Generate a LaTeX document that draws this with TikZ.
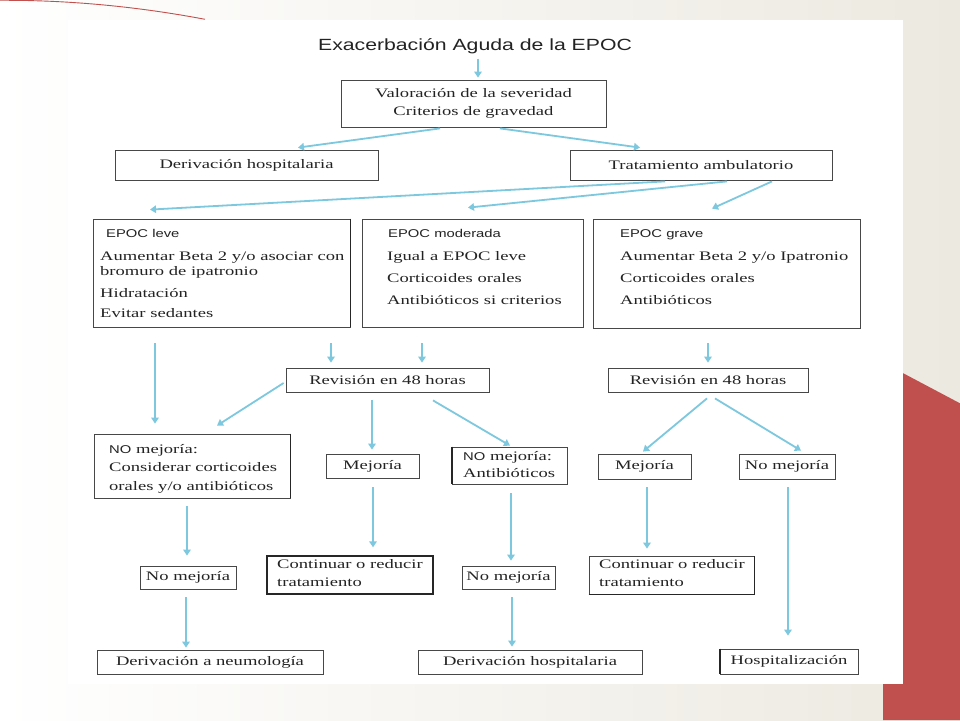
\documentclass[tikz,border=0pt]{standalone}
\usepackage{fontspec}
\setmainfont[FakeStretch=1.43]{Liberation Serif}
\newfontfamily\hs[FakeStretch=1.31]{Liberation Sans}
\usetikzlibrary{arrows.meta}
\definecolor{beige}{RGB}{236,233,224}
\definecolor{slidered}{RGB}{192,80,77}
\definecolor{arrowblue}{RGB}{125,200,222}
\definecolor{ink}{RGB}{35,35,35}
\newcommand{\stack}[1]{\vtop{\baselineskip=0pt\lineskiplimit=-1000pt\lineskip=0pt\relax #1}}
\newcommand{\Ln}[2]{\vskip#1\hbox{#2}}
\newcommand{\hd}[1]{{\hs\fontsize{11.3}{13}\selectfont #1}}
\begin{document}
\begin{tikzpicture}[x=1pt,y=-1pt,
  box/.style={draw=black!72, line width=0.8pt, fill=white, inner sep=0pt, text=ink, font=\fontsize{13}{15}\selectfont},
  txt/.style={inner sep=0pt, text=ink, font=\fontsize{13}{15}\selectfont},
  heavy/.style={draw=black!85, line width=1.8pt},
  arr/.style={draw=arrowblue, line width=1.8pt, -{Triangle[length=6pt,width=7.5pt]}}]
\useasboundingbox (0,0) rectangle (960,720);
% background
\shade[left color=white, right color=beige] (0,0) rectangle (960,720);
\draw[slidered, line width=0.9pt] (0,0.3) .. controls (68.3,0) and (136.7,6.4) .. (205,19.3);
\fill[slidered] (885,363.6) -- (960,403.3) -- (960,720) -- (883,720) -- cycle;
\fill[white] (68,20) rectangle (903,684);
% title
\node[txt, anchor=base, font=\hs\fontsize{16.2}{19}\selectfont] (title) at (475,50) {Exacerbación Aguda de la EPOC};
% boxes
\node[box, minimum width=265pt, minimum height=47pt, align=center, font=\fontsize{13}{18}\selectfont] (val) at (473.5,103.5) {Valoración de la severidad\\Criterios de gravedad};
\node[box, minimum width=263pt, minimum height=30pt] (dh) at (246.5,165) {Derivación hospitalaria};
\node[box, minimum width=262pt, minimum height=30pt] (ta) at (701,165) {Tratamiento ambulatorio};
\node[box, minimum width=257pt, minimum height=108pt] (leve) at (221.5,273) {};
\node[box, minimum width=221pt, minimum height=108pt] (mod) at (472.5,273) {};
\node[box, minimum width=267pt, minimum height=109pt] (grave) at (726.5,273.5) {};
\node[box, minimum width=203pt, minimum height=24pt] (rev1) at (387.5,380) {Revisión en 48 horas};
\node[box, minimum width=200pt, minimum height=24pt] (rev2) at (708,380) {Revisión en 48 horas};
\node[box, minimum width=196pt, minimum height=64pt] (nm1) at (192,466) {};
\node[box, minimum width=93pt, minimum height=24pt] (mej1) at (372.5,466) {Mejoría};
\node[box, minimum width=115pt, minimum height=37pt] (nm2) at (509.5,465.5) {};
\node[box, minimum width=93pt, minimum height=25pt] (mej2) at (644.5,466.5) {Mejoría};
\node[box, minimum width=96pt, minimum height=25pt] (nm3) at (787,466.5) {No mejoría};
\node[box, minimum width=96pt, minimum height=23pt] (nmA) at (188,577.5) {No mejoría};
\node[box, minimum width=166pt, minimum height=38pt, line width=1.4pt, draw=black!85] (cont1) at (350,575) {};
\node[box, minimum width=93pt, minimum height=23pt] (nmB) at (508.5,577.5) {No mejoría};
\node[box, minimum width=165pt, minimum height=38pt] (cont2) at (671.5,575) {};
\node[box, minimum width=226pt, minimum height=24pt] (neumo) at (210,662) {Derivación a neumología};
\node[box, minimum width=224pt, minimum height=24pt] (dh2) at (530,662) {Derivación hospitalaria};
\node[box, minimum width=138pt, minimum height=25pt] (hosp) at (789,661.5) {Hospitalización};
% heavier edges as in the reference
\draw[heavy] (leve.north east) -- (leve.south east);
\draw[heavy] (nm1.north east) -- (nm1.south east);
\draw[heavy] (nm2.north west) -- (nm2.south west);
\draw[heavy] (hosp.north west) -- (hosp.south west);
\draw[draw=black!85, line width=1.4pt] (cont2.south west) -- (cont2.south east) -- (cont2.north east);
% multi-line texts
\node[txt, anchor=base west] (leveT) at (100,237) {\stack{\hbox{\kern6pt\hd{EPOC leve}}\Ln{23pt}{Aumentar Beta 2 y/o asociar con}\Ln{15pt}{bromuro de ipatronio}\Ln{22pt}{Hidratación}\Ln{20pt}{Evitar sedantes}}};
\node[txt, anchor=base west] (modT) at (387,237) {\stack{\hbox{\kern1pt\hd{EPOC moderada}}\Ln{23pt}{Igual a EPOC leve}\Ln{22pt}{Corticoides orales}\Ln{22pt}{Antibióticos si criterios}}};
\node[txt, anchor=base west] (graveT) at (620,237) {\stack{\hbox{\hd{EPOC grave}}\Ln{23pt}{Aumentar Beta 2 y/o Ipatronio}\Ln{22pt}{Corticoides orales}\Ln{22pt}{Antibióticos}}};
\node[txt, anchor=base west] (nm1T) at (109,453) {\stack{\hbox{\hd{NO} mejoría:}\Ln{18pt}{Considerar corticoides}\Ln{19pt}{orales y/o antibióticos}}};
\node[txt, anchor=base west] (nm2T) at (463,460) {\stack{\hbox{\hd{NO} mejoría:}\Ln{17pt}{Antibióticos}}};
\node[txt, anchor=base west] (cont1T) at (277,568) {\stack{\hbox{Continuar o reducir}\Ln{18pt}{tratamiento}}};
\node[txt, anchor=base west] (cont2T) at (599,568) {\stack{\hbox{Continuar o reducir}\Ln{18pt}{tratamiento}}};
% connectors
\draw[arr] ([shift={(3,5)}]title.south) -- ([shift={(4.5,-2)}]val.north);
\draw[arr] ([shift={(-33.5,1)}]val.south) -- ([shift={(51.5,-2)}]dh.north);
\draw[arr] ([shift={(26.5,1)}]val.south) -- ([shift={(-61,-2)}]ta.north);
\draw[arr] ([shift={(-36,1)}]ta.south) -- ([shift={(-71.5,-9)}]leve.north);
\draw[arr] ([shift={(26,1)}]ta.south) -- ([shift={(-4.5,-11)}]mod.north);
\draw[arr] ([shift={(71,1)}]ta.south) -- ([shift={(-14.5,-10)}]grave.north);
\draw[arr] ([shift={(-66.5,16)}]leve.south) -- ([shift={(-37,-10)}]nm1.north);
\draw[arr] ([shift={(109.5,16)}]leve.south) -- ([shift={(-56.5,-5)}]rev1.north);
\draw[arr] ([shift={(-50.5,16)}]mod.south) -- ([shift={(34.5,-5)}]rev1.north);
\draw[arr] ([shift={(-18.5,15)}]grave.south) -- ([shift={(0,-5)}]rev2.north);
\draw[arr] ([shift={(-2,3)}]rev1.west) -- ([shift={(25,-8)}]nm1.north);
\draw[arr] ([shift={(-15.5,8)}]rev1.south) -- ([shift={(-0.5,-4)}]mej1.north);
\draw[arr] ([shift={(45.5,8)}]rev1.south) -- ([shift={(0.5,-1)}]nm2.north);
\draw[arr] ([shift={(-1,6)}]rev2.south) -- ([shift={(-1.5,-2)}]mej2.north);
\draw[arr] ([shift={(7,6)}]rev2.south) -- ([shift={(14,-3)}]nm3.north);
\draw[arr] ([shift={(-5,8)}]nm1.south) -- ([shift={(-1,-10)}]nmA.north);
\draw[arr] ([shift={(-2,8)}]nmA.south) -- ([shift={(-24,-2)}]neumo.north);
\draw[arr] ([shift={(0.5,9)}]mej1.south) -- ([shift={(23,-8)}]cont1.north);
\draw[arr] ([shift={(1.5,9)}]nm2.south) -- ([shift={(2.5,-5)}]nmB.north);
\draw[arr] ([shift={(3.5,8)}]nmB.south) -- ([shift={(-18,-3)}]dh2.north);
\draw[arr] ([shift={(2.5,8)}]mej2.south) -- ([shift={(-24.5,-7)}]cont2.north);
\draw[arr] ([shift={(1,8)}]nm3.south) -- ([shift={(-1,-13)}]hosp.north);
\end{tikzpicture}
\end{document}
